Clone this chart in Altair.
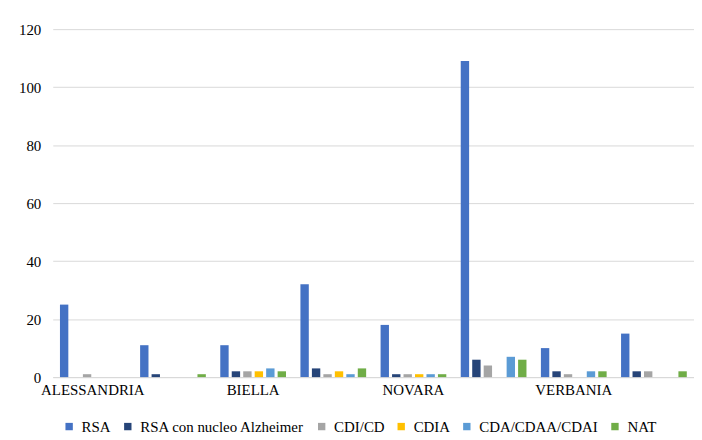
import altair as alt
import pandas as pd

provinces = ["ALESSANDRIA", "ASTI", "BIELLA", "CUNEO", "NOVARA", "TORINO", "VERBANIA", "VERCELLI"]
series = ["RSA", "RSA con nucleo Alzheimer", "CDI/CD", "CDIA", "CDA/CDAA/CDAI", "NAT"]
colors = ["#4472C4", "#264478", "#A5A5A5", "#FFC000", "#5B9BD5", "#70AD47"]

rsa = [25, 11, 11, 32, 18, 109, 10, 15]
rsa_alz = [0, 1, 2, 3, 1, 6, 2, 2]
cdi = [1, 0, 2, 1, 1, 4, 1, 2]
cdia = [0, 0, 2, 2, 1, 0, 0, 0]
cda = [0, 0, 3, 1, 1, 7, 2, 0]
nat = [0, 1, 2, 3, 1, 6, 2, 2]

values = [rsa, rsa_alz, cdi, cdia, cda, nat]
rows = []
for s, vals in zip(series, values):
    for p, v in zip(provinces, vals):
        rows.append({"Provincia": p, "Serie": s, "Valore": v})
df = pd.DataFrame(rows)

FONT = "'Times New Roman', 'Liberation Serif', 'DejaVu Serif', serif"

chart = alt.Chart(df).mark_bar().encode(
    x=alt.X("Provincia:N", sort=provinces, title=None,
            scale=alt.Scale(paddingInner=0.18, paddingOuter=0.09),
            axis=alt.Axis(values=["ALESSANDRIA", "BIELLA", "NOVARA", "VERBANIA"],
                          labelAngle=0, ticks=False, domainColor="#d9d9d9",
                          labelFont=FONT, labelFontSize=15, labelColor="#000000",
                          labelPadding=6, labelLimit=0)),
    xOffset=alt.XOffset("Serie:N", sort=series,
                        scale=alt.Scale(paddingInner=0.27, paddingOuter=0)),
    y=alt.Y("Valore:Q", title=None,
            scale=alt.Scale(domain=[0, 120]),
            axis=alt.Axis(values=[0, 20, 40, 60, 80, 100, 120], domain=False, ticks=False,
                          gridColor="#d9d9d9", labelFont=FONT, labelFontSize=15,
                          labelColor="#000000", labelPadding=12)),
    color=alt.Color("Serie:N", sort=series,
                    scale=alt.Scale(domain=series, range=colors),
                    legend=alt.Legend(title=None, orient="none", direction="horizontal",
                                      legendX=9, legendY=392,
                                      symbolType="square", symbolSize=55,
                                      symbolStrokeWidth=0, labelLimit=0,
                                      labelFont=FONT, labelFontSize=15,
                                      labelColor="#000000", columnPadding=9,
                                      labelOffset=5)),
).properties(
    width=645, height=350,
    autosize=alt.AutoSizeParams(type="none"),
    padding={"left": 45, "top": 20, "right": 0, "bottom": 60},
).configure_view(stroke=None)

chart.save("out.html", embed_options={"renderer": "svg", "actions": False})
